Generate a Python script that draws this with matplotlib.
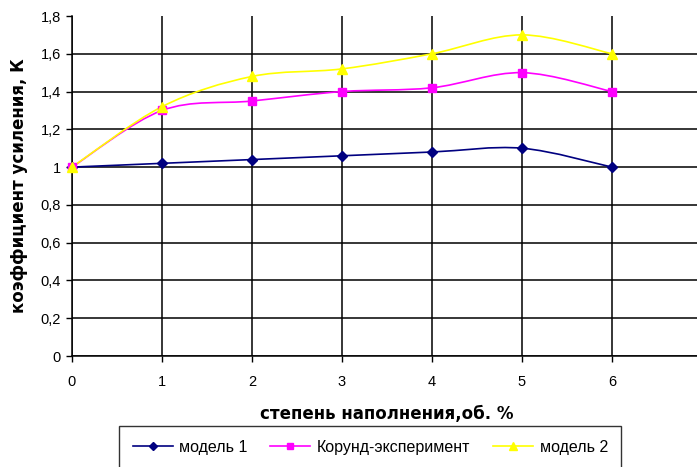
import numpy as np
import matplotlib
matplotlib.use("Agg")
import matplotlib.pyplot as plt
from matplotlib.path import Path
from matplotlib.patches import PathPatch
from matplotlib.lines import Line2D
from matplotlib.ticker import FuncFormatter

plt.rcParams["font.family"] = ["Liberation Sans", "DejaVu Sans"]

# Data
fill_degree = [0, 1, 2, 3, 4, 5, 6]
model_1 = [1.0, 1.02, 1.04, 1.06, 1.08, 1.10, 1.0]
corundum_exp = [1.0, 1.30, 1.35, 1.40, 1.42, 1.50, 1.40]
model_2 = [1.0, 1.32, 1.48, 1.52, 1.60, 1.70, 1.60]

series = [
    ("модель 1", model_1, "#000080", "D", 5),
    ("Корунд-эксперимент", corundum_exp, "#FF00FF", "s", 6),
    ("модель 2", model_2, "#FFFF00", "^", 7),
]


def smooth_path(xs, ys):
    # cubic Bezier through the points (Catmull-Rom style control points)
    p = np.column_stack([xs, ys]).astype(float)
    n = len(p)
    verts = [p[0]]
    codes = [Path.MOVETO]
    for i in range(n - 1):
        p0 = p[i - 1] if i > 0 else p[i]
        p3 = p[i + 2] if i + 2 < n else p[i + 1]
        c1 = p[i] + (p[i + 1] - p0) / 6.0
        c2 = p[i + 1] - (p3 - p[i]) / 6.0
        verts += [c1, c2, p[i + 1]]
        codes += [Path.CURVE4] * 3
    return Path(verts, codes)


fig = plt.figure(figsize=(6.97, 4.67), dpi=100)
ax = fig.add_axes([72 / 697, 111 / 467, 630 / 697, 340 / 467])

ax.set_xlim(0, 7)
ax.set_ylim(0, 1.8)
ax.set_xticks(fill_degree)
ax.set_yticks(np.arange(0, 1.81, 0.2))
ax.yaxis.set_major_formatter(FuncFormatter(
    lambda v, pos: ("%g" % round(v, 1)).replace(".", ",")))

ax.grid(True, color="black", linewidth=1.1)
ax.set_axisbelow(True)
ax.yaxis.get_major_ticks()[-1].gridline.set_visible(False)

for side in ("top", "right"):
    ax.spines[side].set_visible(False)
for side in ("left", "bottom"):
    ax.spines[side].set_linewidth(1.1)

ax.tick_params(axis="both", labelsize=10.5, length=4, width=1, color="black")
ax.tick_params(axis="x", pad=10)
ax.tick_params(axis="y", pad=4)

for name, vals, color, marker, ms in series:
    ax.add_patch(PathPatch(smooth_path(fill_degree, vals), fill=False,
                           edgecolor=color, linewidth=1.2, zorder=3))
    ax.plot(fill_degree, vals, linestyle="none", marker=marker, color=color,
            markersize=ms, zorder=4, clip_on=False)

label_font = dict(family="DejaVu Sans", fontsize=12, fontweight="bold")
ax.set_xlabel("степень наполнения,об. %", labelpad=11, **label_font)
ax.set_ylabel("коэффициент усиления, К", labelpad=9, **label_font)

handles = [Line2D([], [], color=c, marker=m, markersize=ms - 1, linewidth=1.2)
           for _, _, c, m, ms in series]
leg = fig.legend(handles, [s[0] for s in series], loc="upper left",
                 bbox_to_anchor=(119 / 697, 1 - 426 / 467), ncol=3,
                 fontsize=11.5, frameon=True, fancybox=False, edgecolor="black",
                 handlelength=2.5, handletextpad=0.4, columnspacing=1.45,
                 borderpad=0.85, borderaxespad=0)
leg.get_frame().set_linewidth(1.0)

fig.savefig("out.png", dpi=100)
